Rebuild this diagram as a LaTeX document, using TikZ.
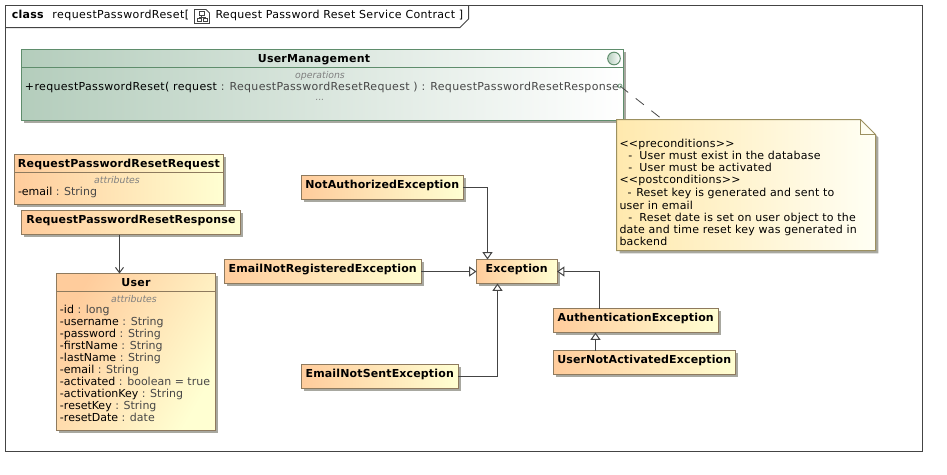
\documentclass[tikz,border=0pt]{standalone}
\usepackage{fontspec}
\setmainfont{DejaVu Sans}
\usetikzlibrary{arrows.meta,calc,shadows}
\definecolor{lineC}{HTML}{444444}
\definecolor{orangeL}{HTML}{FFCC9C}
\definecolor{orangeR}{HTML}{FFFFD2}
\definecolor{orangeB}{HTML}{8E7A5E}
\definecolor{greenL}{HTML}{B4CDBC}
\definecolor{greenB}{HTML}{5F8D6C}
\definecolor{noteL}{HTML}{FFE9AE}
\definecolor{noteR}{HTML}{FFFFF4}
\definecolor{noteB}{HTML}{9C9060}
\definecolor{shadowC}{HTML}{A8A8A0}
\definecolor{typeC}{HTML}{474747}
\definecolor{labelC}{HTML}{808080}
\newcommand{\ls}[1]{\addfontfeature{LetterSpace=#1}}
\tikzset{
  x=0.75pt,y=-0.75pt,
  boxsize/.style 2 args={minimum width=#1*0.75pt,minimum height=#2*0.75pt},
  base/.style={anchor=north west,inner sep=0pt,outer sep=0pt,font=\fontsize{8.25}{9}\selectfont},
  cast/.style={drop shadow={shadow xshift=2.1pt,shadow yshift=-2.1pt,fill=shadowC,opacity=1}},
  classbox/.style={base,draw=orangeB,line width=0.75pt,left color=orangeL,right color=orangeR,cast},
  oneline/.style={classbox,font=\fontsize{8.25}{9}\selectfont\bfseries\ls{1.3},text height=9.5pt,text depth=8pt},
  ifacebox/.style={base,draw=greenB,line width=0.75pt,left color=greenL,right color=white,cast},
  txt/.style={inner sep=0pt,outer sep=0pt,font=\fontsize{8.25}{9}\selectfont},
  widetxt/.style={inner sep=0pt,outer sep=0pt,font=\fontsize{8.25}{9}\selectfont\ls{#1}},
  bold/.style={txt,font=\fontsize{8.25}{9}\selectfont\bfseries\ls{2}},
  label/.style={txt,text=labelC,font=\fontsize{7}{8}\selectfont\itshape},
  attrs/.style={txt,anchor=north west,align=left},
  notetext/.style={attrs,font=\fontsize{8.25}{9}\selectfont\ls{2}},
  gen/.style={draw=lineC,line width=0.75pt,-{Triangle[open,fill=white,length=5.5pt,width=7.5pt]}},
  assoc/.style={draw=lineC,line width=0.75pt,-{Straight Barb[length=4pt,width=6pt]}},
  anchorline/.style={draw=typeC,line width=0.6pt,dash pattern=on 7.8pt off 7.2pt},
  sep/.style={line width=0.75pt},
}
\newcommand{\ty}[1]{\textcolor{typeC}{#1}}
\begin{document}
\begin{tikzpicture}
\useasboundingbox (0,0) rectangle (947,475);
\fill[white] (0,0) rectangle (947,475);
% frame
\draw[lineC,line width=0.75pt] (5.5,5.5) rectangle (922.5,451.5);
\draw[lineC,line width=0.75pt] (5.5,27.5) -- (460,27.5) -- (468.5,19) -- (468.5,5.5);
\node[bold,anchor=base west] (kw) at (12,18) {class};
\node[widetxt=3.8,anchor=base west] (fname) at (52.5,18) {requestPasswordReset[};
\node[widetxt=2.9,anchor=base west] (fctx) at (215.5,18) {Request Password Reset Service Contract ]};
% frame icon
\draw[lineC,line width=0.6pt] (194.5,9.5) -- (206,9.5) -- (209.5,13) -- (209.5,23.5) -- (194.5,23.5) -- cycle;
\draw[lineC,line width=0.6pt] (199,11.5) rectangle (204,15.5) (197,18.5) rectangle (201.5,21.5) (203,18.5) rectangle (207.5,21.5)
  (201.5,15.5) -- (201.5,17) (199,18.5) -- (199,17) -- (205,17) -- (205,18.5);

% interface
\node[ifacebox,boxsize={602}{71}] (um) at (21.5,49.5) {};
\draw[greenB,sep] (um.north west |- 0,67.5) -- (um.north east |- 0,67.5);
\node[bold,anchor=base] (umt) at (314,62) {UserManagement};
\node[label,anchor=base] (umo) at (320,78) {operations};
\node[widetxt=3,anchor=base west] (umm) at (25,90) {+requestPasswordReset( request \ty{: RequestPasswordResetRequest ) : RequestPasswordResetResponse}};
\node[label,anchor=base] (umd) at (320,100) {...};
\node[circle,draw=greenB,line width=0.75pt,left color=greenL,right color=white,minimum size=9.5pt,inner sep=0pt] (umc) at (614,58.5) {};

% classes with compartments
\node[classbox,boxsize={209}{49.5}] (req) at (14.5,154.5) {};
\draw[orangeB,sep] (req.north west |- 0,172.5) -- (req.north east |- 0,172.5);
\node[bold,anchor=base] (reqt) at (119,167) {RequestPasswordResetRequest};
\node[label,anchor=base] (reqa) at (117,183) {attributes};
\node[txt,anchor=base west] (reqm) at (18,195) {-email \ty{: String}};

\node[oneline,boxsize={219}{24}] (resp) at (21.5,210.5) {RequestPasswordResetResponse};

\node[classbox,shading angle=60,boxsize={159}{157}] (user) at (56.5,273.5) {};
\draw[orangeB,sep] (user.north west |- 0,291.5) -- (user.north east |- 0,291.5);
\node[bold,anchor=base] (usert) at (136,286) {User};
\node[label,anchor=base] (usera) at (134,302) {attributes};
\node[attrs] (userm) at (60,305.5) {-id \ty{: long}\\-username \ty{: String}\\-password \ty{: String}\\-firstName \ty{: String}\\-lastName \ty{: String}\\-email \ty{: String}\\-activated \ty{: boolean = true}\\-activationKey \ty{: String}\\-resetKey \ty{: String}\\-resetDate \ty{: date}};

% exceptions
\node[oneline,boxsize={161.5}{24}] (na) at (301.5,175.5) {NotAuthorizedException};
\node[oneline,boxsize={196.5}{24}] (enr) at (224.5,259.5) {EmailNotRegisteredException};
\node[oneline,boxsize={156.5}{24}] (ens) at (301.5,364.5) {EmailNotSentException};
\node[oneline,boxsize={80.5}{24}] (ex) at (476.5,259.5) {Exception};
\node[oneline,boxsize={164.5}{24}] (auth) at (553.5,308.5) {AuthenticationException};
\node[oneline,boxsize={181.5}{24}] (una) at (553.5,350.5) {UserNotActivatedException};

% note
\fill[shadowC] (619.5,122.3) -- (863.5,122.3) -- (878.3,137.5) -- (878.3,253.3) -- (619.5,253.3) -- cycle;
\shade[left color=noteL,right color=noteR,draw=noteB,line width=0.75pt] (616.5,119.5) -- (860.5,119.5) -- (875.5,134.5) -- (875.5,250.5) -- (616.5,250.5) -- cycle;
\draw[noteB,line width=0.75pt] (860.5,119.5) -- (860.5,134.5) -- (875.5,134.5);
\node[base,boxsize={259}{131}] (note) at (616.5,119.5) {};
\node[notetext] (notetxt) at (619.5,139) {<{}<preconditions>{}>\\
\hspace*{6.6pt}-\hspace*{5.4pt}User must exist in the database\\
\hspace*{6.6pt}-\hspace*{5.4pt}User must be activated\\
<{}<postconditions>{}>\\[0.75pt]
\hspace*{6pt}-\hspace*{3.6pt}Reset key is generated and sent to\\[0.75pt]
user in email\\
\hspace*{6.6pt}-\hspace*{5.4pt}Reset date is set on user object to the\\
date and time reset key was generated in\\
backend};

% connectors
\draw[assoc] ($(resp.south west)+(98,0)$) -- ($(user.north west)+(63,0)$);
\draw[gen] (na.east) -| ($(ex.north west)+(11,0)$);
\draw[gen] (enr.east) -- (ex.west);
\draw[gen] (ens.east) -| ($(ex.south west)+(21,0)$);
\draw[gen] ($(auth.north west)+(46,0)$) |- (ex.east);
\draw[gen] ($(una.north west)+(42,0)$) -- ($(auth.south west)+(42,0)$);
\coordinate (dashA) at ($(um.north east)+(-3.5,36.5)$);
\coordinate (dashB) at ($(note.north west)+(43.5,-2)$);
\draw[anchorline] (dashA) -- (dashB);
\draw[greenB,line width=0.5pt] (dashA) circle (2);
\end{tikzpicture}
\end{document}
